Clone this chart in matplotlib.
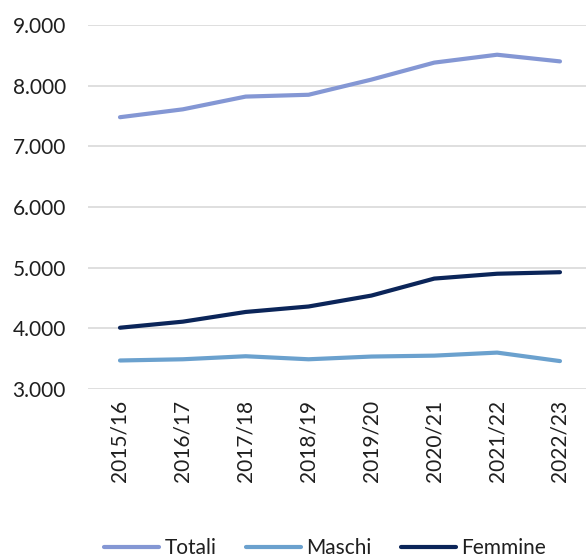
import matplotlib
matplotlib.use("Agg")
import matplotlib.pyplot as plt
from matplotlib.ticker import FuncFormatter

years = ["2015/16", "2016/17", "2017/18", "2018/19", "2019/20", "2020/21", "2021/22", "2022/23"]
totali = [7480, 7610, 7820, 7850, 8100, 8380, 8510, 8400]
maschi = [3470, 3490, 3540, 3490, 3535, 3550, 3600, 3460]
femmine = [4010, 4110, 4270, 4360, 4540, 4820, 4900, 4925]

colors = {"Totali": "#8497D4", "Maschi": "#6BA1CE", "Femmine": "#0B2559"}

plt.rcParams['font.family'] = ['Lato', 'DejaVu Sans']

fig = plt.figure(figsize=(5.86, 5.58), dpi=100)
ax = fig.add_axes([88/586, 169/558, 498/586, 364/558])

xs = list(range(len(years)))
for name, vals in [("Totali", totali), ("Maschi", maschi), ("Femmine", femmine)]:
    ax.plot(xs, vals, color=colors[name], lw=3, solid_capstyle="round",
            solid_joinstyle="round", label=name, zorder=3)

ax.set_xlim(-0.509, 7.414)
ax.set_ylim(3000, 9000)
ax.set_yticks(range(3000, 9001, 1000))
ax.yaxis.set_major_formatter(FuncFormatter(lambda v, p: f"{int(v):,}".replace(",", ".")))
ax.set_xticks(xs)
ax.set_xticklabels(years, rotation=90)
ax.tick_params(axis="both", length=0, labelsize=15, colors="#1f1f1f")
ax.tick_params(axis="x", pad=8)
ax.tick_params(axis="y", pad=16)
ax.grid(axis="y", color="#D9D9D9", lw=1.2)
ax.set_axisbelow(True)
for s in ax.spines.values():
    s.set_visible(False)

handles, labels = ax.get_legend_handles_labels()
fig.legend(handles, labels, loc="center",
           bbox_to_anchor=(325/586, 10/558), ncol=3, frameon=False, fontsize=15,
           handlelength=2.65, handletextpad=0.25, columnspacing=1.4,
           labelcolor="#1f1f1f")

fig.savefig("out.png", dpi=100)
